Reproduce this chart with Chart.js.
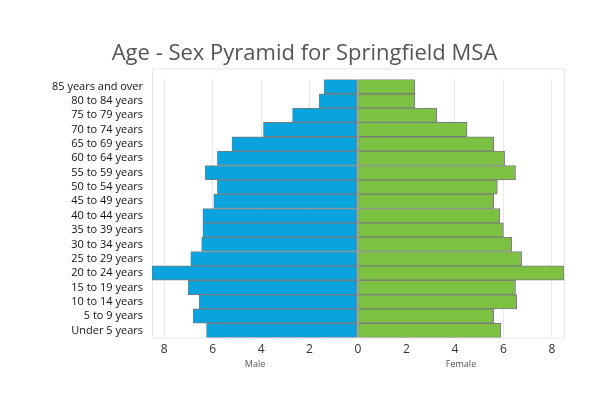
<!DOCTYPE html>
<html>
<head>
<meta charset="utf-8">
<script src="https://cdn.jsdelivr.net/npm/chart.js@4"></script>
<style>
  html, body { margin: 0; padding: 0; background: #fff; }
  #wrap { width: 613px; height: 397px; }
</style>
</head>
<body>
<div id="wrap"><canvas id="pyramid"></canvas></div>
<script>
const ageGroups = [
    '85 years and over',
    '80 to 84 years',
    '75 to 79 years',
    '70 to 74 years',
    '65 to 69 years',
    '60 to 64 years',
    '55 to 59 years',
    '50 to 54 years',
    '45 to 49 years',
    '40 to 44 years',
    '35 to 39 years',
    '30 to 34 years',
    '25 to 29 years',
    '20 to 24 years',
    '15 to 19 years',
    '10 to 14 years',
    '5 to 9 years',
    'Under 5 years',
];

// percent of population, top row first
const male = [1.4, 1.6, 2.7, 3.9, 5.2, 5.8, 6.3, 5.8, 5.95, 6.4, 6.4, 6.45, 6.9, 8.5, 7.0, 6.55, 6.8, 6.25];
const female = [2.35, 2.35, 3.25, 4.5, 5.6, 6.05, 6.5, 5.75, 5.6, 5.85, 6.0, 6.35, 6.75, 8.5, 6.5, 6.55, 5.6, 5.9];

const sideLabels = ['Male', 'Female'];

const fontFamily = '"Open Sans", sans-serif';

// light frame around the plot and the Male / Female captions under each half
const framePlugin = {
    id: 'frame',
    beforeDatasetsDraw(chart) {
        const { ctx, chartArea } = chart;
        ctx.save();
        ctx.strokeStyle = '#e6e6e6';
        ctx.lineWidth = 1;
        ctx.strokeRect(chartArea.left + 0.5, chartArea.top - 10.5, chartArea.right - chartArea.left, chartArea.bottom - chartArea.top + 11);
        ctx.restore();
    },
    afterDraw(chart) {
        const { ctx, scales } = chart;
        const x = scales.x;
        const y = chart.chartArea.bottom + 27;
        ctx.save();
        ctx.font = '9px ' + fontFamily;
        ctx.fillStyle = '#555';
        ctx.textAlign = 'center';
        ctx.textBaseline = 'middle';
        ctx.fillText(sideLabels[0], x.getPixelForValue(-4.25), y);
        ctx.fillText(sideLabels[1], x.getPixelForValue(4.25), y);
        ctx.restore();
    }
};

const data = {
    labels: ageGroups,
    datasets: [{
        label: sideLabels[0],
        data: male.map(v => -v),
        backgroundColor: '#09a3de',
        borderColor: '#7a7a7a',
        borderWidth: 1,
        borderSkipped: false,
        barPercentage: 1,
        categoryPercentage: 1,
    }, {
        label: sideLabels[1],
        data: female,
        backgroundColor: '#7dc143',
        borderColor: '#7a7a7a',
        borderWidth: 1,
        borderSkipped: false,
        barPercentage: 1,
        categoryPercentage: 1,
    }]
};

const config = {
    type: 'bar',
    data: data,
    plugins: [framePlugin],
    options: {
        indexAxis: 'y',
        responsive: true,
        maintainAspectRatio: false,
        animation: false,
        layout: {
            padding: { left: 45, right: 49, top: 0, bottom: 35 }
        },
        plugins: {
            legend: { display: false },
            tooltip: { enabled: false },
            title: {
                display: true,
                text: 'Age - Sex Pyramid for Springfield MSA',
                color: '#555',
                font: { family: fontFamily, size: 22, weight: 'normal' },
                padding: { top: 41, bottom: 12 }
            }
        },
        scales: {
            x: {
                stacked: true,
                min: -8.5,
                max: 8.5,
                grid: { color: '#e8e8e8', drawTicks: false },
                border: { display: false },
                ticks: {
                    stepSize: 2,
                    includeBounds: false,
                    padding: 5,
                    color: '#333',
                    font: { family: fontFamily, size: 12 },
                    callback: v => Math.abs(v)
                }
            },
            y: {
                stacked: true,
                grid: { display: false, drawTicks: false },
                border: { display: false },
                afterFit: scale => { scale.width = 107; },
                ticks: {
                    padding: 9,
                    color: '#111',
                    autoSkip: false,
                    font: { family: fontFamily, size: 11, weight: '500' }
                }
            }
        }
    }
};

const pyramid = new Chart(document.getElementById('pyramid'), config);
</script>
</body>
</html>
